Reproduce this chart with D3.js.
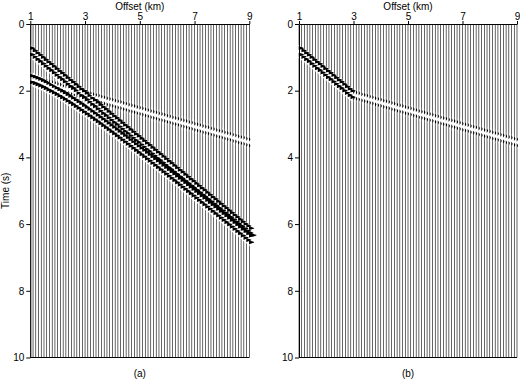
<!DOCTYPE html>
<html><head><meta charset="utf-8">
<script src="https://cdn.jsdelivr.net/npm/d3@7"></script>
<style>
body{margin:0;background:#fff}
svg{display:block}
text{font-family:"Liberation Sans",Arial,Helvetica,sans-serif;font-size:10px;fill:#000}
</style>
</head><body>
<svg id="c" width="520" height="380"></svg>
<script>
// ---- data ----
const offsets = [1.0,1.1,1.2,1.3,1.4,1.5,1.6,1.7,1.8,1.9,2.0,2.1,2.2,2.3,2.4,2.5,2.6,2.7,2.8,2.9,
3.0,3.1,3.2,3.3,3.4,3.5,3.6,3.7,3.8,3.9,4.0,4.1,4.2,4.3,4.4,4.5,4.6,4.7,4.8,4.9,
5.0,5.1,5.2,5.3,5.4,5.5,5.6,5.7,5.8,5.9,6.0,6.1,6.2,6.3,6.4,6.5,6.6,6.7,6.8,6.9,
7.0,7.1,7.2,7.3,7.4,7.5,7.6,7.7,7.8,7.9,8.0,8.1,8.2,8.3,8.4,8.5,8.6,8.7,8.8,8.9,9.0];
const offsetTicks = [1,3,5,7,9];
const timeTicks = [0,2,4,6,8,10];
// arrival times (s) per trace
const directTimes = [0.72,0.79,0.86,0.92,0.99,1.06,1.13,1.19,1.26,1.33,1.40,1.46,1.53,1.60,1.67,1.73,1.80,1.87,1.94,2.00,
2.07,2.14,2.21,2.27,2.34,2.41,2.48,2.54,2.61,2.68,2.75,2.81,2.88,2.95,3.02,3.08,3.15,3.22,3.29,3.35,
3.42,3.49,3.56,3.62,3.69,3.76,3.83,3.89,3.96,4.03,4.10,4.16,4.23,4.30,4.37,4.43,4.50,4.57,4.64,4.70,
4.77,4.84,4.91,4.97,5.04,5.11,5.18,5.24,5.31,5.38,5.45,5.51,5.58,5.65,5.72,5.78,5.85,5.92,5.99,6.05,6.12];
const refractionTimes = [1.55,1.57,1.60,1.62,1.65,1.67,1.69,1.72,1.74,1.76,1.79,1.81,1.84,1.86,1.88,1.91,1.93,1.95,1.98,2.00,
2.03,2.05,2.07,2.10,2.12,2.14,2.17,2.19,2.22,2.24,2.26,2.29,2.31,2.33,2.36,2.38,2.41,2.43,2.45,2.48,
2.50,2.52,2.55,2.57,2.60,2.62,2.64,2.67,2.69,2.71,2.74,2.76,2.79,2.81,2.83,2.86,2.88,2.90,2.93,2.95,
2.98,3.00,3.02,3.05,3.07,3.09,3.12,3.14,3.17,3.19,3.21,3.24,3.26,3.28,3.31,3.33,3.36,3.38,3.40,3.43,3.45];
const reflectionTimes = [1.550,1.582,1.616,1.652,1.690,1.731,1.773,1.816,1.861,1.908,1.956,2.005,2.055,2.106,2.158,2.212,2.266,2.320,2.376,2.432,
2.489,2.546,2.604,2.663,2.722,2.781,2.841,2.901,2.962,3.023,3.084,3.146,3.208,3.270,3.332,3.395,3.458,3.521,3.585,3.648,
3.712,3.776,3.840,3.904,3.969,4.033,4.098,4.163,4.228,4.293,4.358,4.423,4.489,4.554,4.620,4.686,4.751,4.817,4.883,4.949,
5.015,5.082,5.148,5.214,5.281,5.347,5.414,5.480,5.547,5.613,5.680,5.747,5.814,5.881,5.948,6.015,6.082,6.149,6.216,6.283,6.350];
// events in each panel: relative amplitude and trace-index range
const eventsA = [
  {times: directTimes, amp: 1, first: 0, last: 80},
  {times: reflectionTimes, amp: 1, first: 0, last: 80},
  {times: refractionTimes, amp: 0.15, first: 0, last: 80}
];
const eventsB = [
  {times: directTimes, amp: 1, first: 0, last: 19},
  {times: refractionTimes, amp: 0.15, first: 20, last: 80}
];
const captions = ["(a)", "(b)"];

// ---- drawing ----
const svg = d3.select("#c");
const panels = [
  {events: eventsA, x0: 30.3, x1: 249.3, caption: captions[0], timeLabel: true},
  {events: eventsB, x0: 299.0, x1: 517.0, caption: captions[1], timeLabel: false}
];
const y = d3.scaleLinear().domain([0, 10]).range([24, 357.5]);
const samples = d3.range(0, 10.0001, 0.01);
function wavelet(tau) {
  const e = (tau - 0.1) / 0.15;
  return Math.cos(2 * Math.PI * tau / 0.2) * Math.exp(-(e * e * e * e));
}
const bias = 0.6; // width of the zero-amplitude trace bar

panels.forEach(p => {
  const x = d3.scaleLinear().domain([1, 9]).range([p.x0, p.x1]);
  const spacing = x(offsets[1]) - x(offsets[0]);
  const ampPx = 2.0 * spacing;
  const g = svg.append("g");

  offsets.forEach((off, i) => {
    const base = x(off) - bias / 2;
    const pts = samples.map(t => {
      let v = 0;
      p.events.forEach(ev => {
        if (i >= ev.first && i <= ev.last) {
          const tau = t - ev.times[i];
          if (tau > -0.3 && tau < 0.5) v += ev.amp * wavelet(tau);
        }
      });
      return {t, v};
    });
    const area = d3.area()
      .y(d => y(d.t))
      .x0(base)
      .x1(d => base + Math.max(0, bias + d.v * ampPx));
    g.append("path").attr("d", area(pts)).attr("fill", "#000");
  });

  // top axis
  const ax = svg.append("g").attr("transform", "translate(0,24)")
    .call(d3.axisTop(x).tickValues(offsetTicks).tickSize(3).tickSizeOuter(0).tickPadding(1).tickFormat(d3.format("d")));
  ax.selectAll("text").style("font-family", "Liberation Sans, Arial, sans-serif").style("font-size", "10px");
  // left axis
  const ay = svg.append("g").attr("transform", `translate(${p.x0},0)`)
    .call(d3.axisLeft(y).tickValues(timeTicks).tickSize(4).tickSizeOuter(0).tickPadding(2).tickFormat(d3.format("d")));
  ay.selectAll("text").style("font-family", "Liberation Sans, Arial, sans-serif").style("font-size", "10px");
  // bottom frame line
  svg.append("line").attr("x1", p.x0).attr("x2", p.x1)
    .attr("y1", y(10)).attr("y2", y(10)).attr("stroke", "#000").attr("stroke-width", 1);

  const mid = (p.x0 + p.x1) / 2;
  svg.append("text").attr("x", mid).attr("y", 10).attr("text-anchor", "middle").text("Offset (km)");
  svg.append("text").attr("x", mid).attr("y", 377).attr("text-anchor", "middle").text(p.caption);
  if (p.timeLabel) {
    svg.append("text").attr("transform", `translate(9,${y(5)}) rotate(-90)`)
      .attr("text-anchor", "middle").text("Time (s)");
  }
});
</script>
</body></html>
